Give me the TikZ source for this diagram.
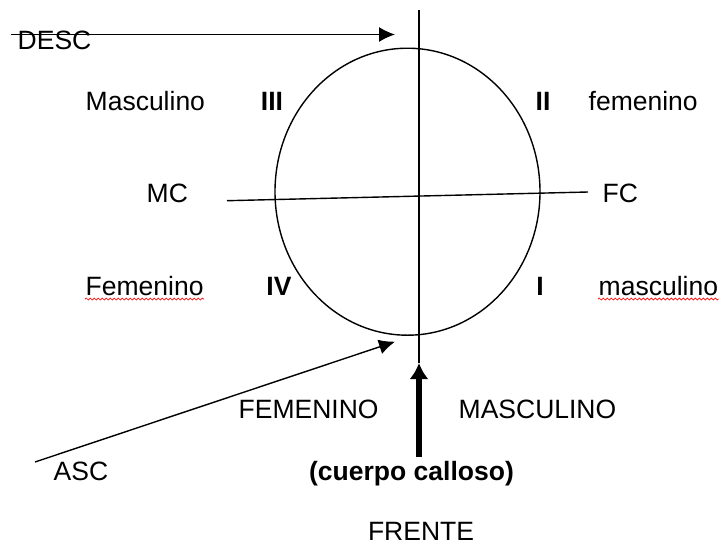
\documentclass[tikz,border=0pt]{standalone}
\usepackage{fontspec}
\setmainfont{Liberation Sans}
\usepackage{tikz}
\usetikzlibrary{arrows.meta,decorations.pathmorphing}
\tikzset{>={Latex[length=16pt,width=15pt]}}
\tikzset{
  lbl/.style={anchor=base west, inner sep=0pt, font=\fontsize{26.5}{30}\selectfont},
  quad/.style={lbl, anchor=base, font=\fontsize{26.5}{30}\selectfont\bfseries},
  spell/.style={red, line width=0.7pt, decorate, decoration={snake, amplitude=1pt, segment length=4pt}}
}

\begin{document}
\begin{tikzpicture}[x=1pt, y=-1pt, line width=1.4pt]
    \useasboundingbox (0, 0) rectangle (725, 546);
    \node[lbl] (desc) at (17, 49.5) {DESC};
    \node[lbl] (mascIII) at (85, 110.5) {Masculino};
    \node[quad] (qIII) at (272, 110.5) {III};
    \node[quad] (qII) at (543, 110.5) {II};
    \node[lbl] (femII) at (588, 110.5) {femenino};
    \node[lbl] (mc) at (146, 202.5) {MC};
    \node[lbl] (fc) at (602, 202.5) {FC};
    \node[lbl] (femIV) at (85, 295) {Femenino};
    \node[quad] (qIV) at (279, 295) {IV};
    \node[quad] (qI) at (540, 295) {I};
    \node[lbl] (mascI) at (598, 295) {masculino};
    \node[lbl] (femenino) at (238, 418) {FEMENINO};
    \node[lbl] (masculino) at (458, 418) {MASCULINO};
    \node[lbl] (asc) at (53, 480) {ASC};
    \node[quad] (cuerpo) at (411.5, 480) {(cuerpo calloso)};
    \node[lbl, anchor=base] (frente) at (421, 540) {FRENTE};
    \draw[spell] ([yshift=-4pt]femIV.base west) -- ([yshift=-4pt]femIV.base east);
    \draw[spell] ([yshift=-4pt]mascI.base west) -- ([yshift=-4pt]mascI.base east);
    \draw (407.5, 191.7) ellipse [x radius=132.5pt, y radius=143.5pt];
    \coordinate (top) at (419, 10);
    \coordinate (front) at (419, 363);
    \coordinate (west) at (227, 200.7);
    \coordinate (east) at (588, 192);
    \draw (top) -- (front);
    \draw (west) -- (east);
    \coordinate (descstart) at (11, 34.5);
    \coordinate (desctip) at (395, 34.5);
    \draw[->] (descstart) -- (desctip);
    \coordinate (ascstart) at (35, 462);
    \coordinate (asctip) at (395, 341.7);
    \draw[->] (ascstart) -- (asctip);
    \coordinate (cuerpotop) at (419, 457);
    \draw[line width=6.5pt, -{Latex[length=16pt,width=19pt]}] (cuerpotop) -- (front);
\end{tikzpicture}
\end{document}
